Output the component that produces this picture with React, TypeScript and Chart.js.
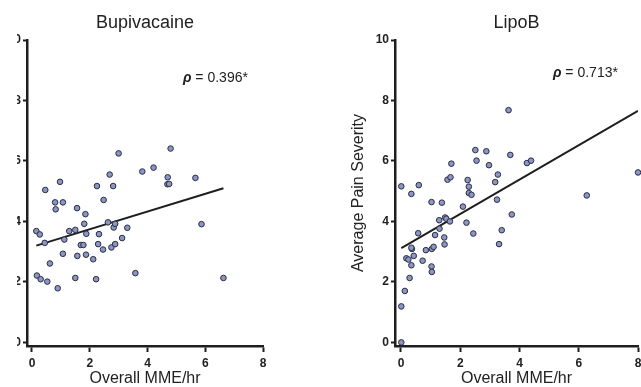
import React, { useEffect, useRef } from 'react';
import { Chart, registerables } from 'chart.js';

Chart.register(...registerables);

// ---------- data ----------
const panelTitles = ['Bupivacaine', 'LipoB'];
const rhoLabels = ['0.396*', '0.713*'];
const xAxisTitle = 'Overall MME/hr';
const yAxisTitle = 'Average Pain Severity';
const xTickValues = [0, 2, 4, 6, 8];
const yTickValues = [0, 2, 4, 6, 8, 10];

const bupiMME = [0.15, 0.27, 0.44, 0.46, 0.17, 0.30, 0.53, 0.62, 0.80, 0.82, 0.89, 0.97, 1.07, 1.07, 1.12, 1.29, 1.50, 1.50, 1.56, 1.57, 1.69, 1.78, 1.81, 1.85, 1.88, 1.87, 2.12, 2.22, 2.25, 2.29, 2.32, 2.46, 2.48, 2.63, 2.69, 2.75, 2.81, 2.83, 2.88, 2.88, 3.00, 3.12, 3.30, 3.58, 3.82, 4.21, 4.70, 4.69, 4.75, 4.80, 5.66, 5.87, 6.63];
const bupiPain = [3.68, 3.57, 3.29, 5.04, 2.21, 2.09, 2.01, 2.61, 4.63, 4.40, 1.79, 5.31, 4.63, 2.93, 3.40, 3.68, 3.72, 2.13, 4.44, 2.86, 3.22, 3.22, 3.92, 4.24, 3.59, 2.90, 2.75, 2.09, 5.17, 3.25, 3.58, 3.07, 4.71, 3.97, 5.55, 3.14, 5.17, 3.80, 3.92, 3.25, 6.25, 3.45, 3.79, 2.29, 5.65, 5.78, 5.46, 5.23, 5.24, 6.41, 5.44, 3.91, 2.13];
const bupiFitSlope = 0.293;
const bupiFitIntercept = 3.156;

const lipoMME = [0.01, 0.01, 0.13, 0.01, 0.29, 0.18, 0.25, 0.35, 0.35, 0.37, 0.35, 0.43, 0.58, 0.60, 0.73, 0.84, 1.03, 1.03, 1.04, 1.04, 1.10, 1.15, 1.29, 1.30, 1.38, 1.46, 1.47, 1.49, 1.53, 1.57, 1.65, 1.67, 1.70, 2.09, 2.21, 2.25, 2.29, 2.29, 2.38, 2.44, 2.51, 2.55, 2.88, 2.97, 3.18, 3.24, 3.27, 3.31, 3.40, 3.63, 3.69, 3.74, 4.25, 4.39, 6.27, 8.00];
const lipoPain = [0.00, 1.19, 1.70, 5.16, 2.13, 2.78, 2.74, 4.91, 2.55, 3.09, 3.13, 2.86, 3.61, 5.20, 2.70, 3.05, 4.64, 2.51, 2.33, 3.09, 3.16, 3.55, 4.04, 3.76, 4.62, 3.47, 3.24, 4.13, 4.09, 5.38, 4.00, 5.46, 5.91, 4.49, 3.96, 5.37, 5.15, 4.94, 4.88, 3.60, 6.36, 6.01, 6.32, 5.86, 5.30, 4.72, 5.55, 3.25, 3.71, 7.68, 6.20, 4.23, 5.93, 6.01, 4.86, 5.62];
const lipoFitSlope = 0.568;
const lipoFitIntercept = 3.114;

// ---------- styling ----------
const INK = '#1e1e1e';
const POINT_FILL = '#8b96c6';
const POINT_EDGE = '#2a2d3e';
const FONT = '"Liberation Sans", Arial, sans-serif';
const TICK_FONT = '"Liberation Sans Narrow", "Liberation Sans", Arial, sans-serif';

const textPlugin = {
  id: 'panelText',
  afterDraw(chart: any, _args: any, opts: any) {
    const { ctx, chartArea } = chart;
    ctx.save();
    ctx.fillStyle = '#222';
    ctx.textAlign = 'center';
    ctx.textBaseline = 'middle';
    ctx.font = `18px ${FONT}`;
    ctx.fillText(opts.title, (chartArea.left + chartArea.right) / 2, opts.titleY);
    const x0 = chartArea.left + opts.rhoDx;
    const y0 = chartArea.top + opts.rhoDy;
    ctx.textAlign = 'left';
    ctx.font = `italic bold 14px ${FONT}`;
    ctx.fillText('ρ', x0, y0);
    const w = ctx.measureText('ρ').width;
    ctx.font = `14px ${FONT}`;
    ctx.fillText(' = ' + opts.rho, x0 + w, y0);
    ctx.restore();
  },
};

type PanelProps = {
  mme: number[];
  pain: number[];
  slope: number;
  intercept: number;
  title: string;
  rho: string;
  rhoDx: number;
  rhoDy: number;
  left: number;
  width: number;
  padLeft: number;
  padRight: number;
  yScaleWidth: number;
  xMin: number;
  showYTitle: boolean;
};

function Panel(p: PanelProps) {
  const ref = useRef<HTMLCanvasElement | null>(null);
  useEffect(() => {
    if (!ref.current) return;
    const points = p.mme.map((x, i) => ({ x, y: p.pain[i] }));
    const x1 = Math.min(...p.mme);
    const x2 = Math.max(...p.mme);
    const fit = [x1, x2].map((x) => ({ x, y: p.intercept + p.slope * x }));
    const setTicks = (vals: number[]) => (scale: any) => {
      scale.ticks = vals.map((v) => ({ value: v }));
    };
    const chart = new Chart(ref.current, {
      type: 'scatter',
      data: {
        datasets: [
          {
            type: 'line',
            data: fit,
            borderColor: INK,
            borderWidth: 2,
            pointRadius: 0,
            fill: false,
            order: 2,
          } as any,
          {
            data: points,
            backgroundColor: POINT_FILL,
            borderColor: POINT_EDGE,
            borderWidth: 1,
            pointRadius: 2.8,
            clip: false,
            order: 1,
          } as any,
        ],
      },
      options: {
        animation: false,
        responsive: false,
        layout: { padding: { left: p.padLeft, right: p.padRight, top: 40, bottom: 0 } },
        plugins: {
          legend: { display: false },
          tooltip: { enabled: false },
          title: { display: false },
          panelText: { title: p.title, titleY: 23, rho: p.rho, rhoDx: p.rhoDx, rhoDy: p.rhoDy },
        } as any,
        scales: {
          x: {
            type: 'linear',
            min: p.xMin,
            max: 8,
            afterBuildTicks: setTicks(xTickValues),
            afterFit: (s: any) => { s.height = 41; },
            border: { display: true, color: INK, width: 2.5 },
            grid: { display: true, drawOnChartArea: false, drawTicks: true, tickLength: 6, tickWidth: 2, tickColor: INK },
            ticks: { color: '#222', padding: 4, font: { family: TICK_FONT, size: 12, weight: 'bold' }, maxRotation: 0 },
            title: { display: true, text: xAxisTitle, color: '#222', padding: 0, font: { family: FONT, size: 16, lineHeight: 1 } },
          },
          y: {
            type: 'linear',
            min: -0.12,
            max: 10,
            afterBuildTicks: setTicks(yTickValues),
            afterFit: (s: any) => { s.width = p.yScaleWidth; },
            border: { display: true, color: INK, width: 2.5 },
            grid: { display: true, drawOnChartArea: false, drawTicks: true, tickLength: 4, tickWidth: 2, tickColor: INK },
            ticks: { color: '#222', padding: 2, font: { family: TICK_FONT, size: 12, weight: 'bold' } },
            title: { display: p.showYTitle, text: yAxisTitle, color: '#222', padding: 0, font: { family: FONT, size: 16 } },
          },
        },
      },
      plugins: [textPlugin as any],
    } as any);
    return () => chart.destroy();
  }, []);
  return (
    <div style={{ position: 'absolute', left: p.left, top: 0, width: p.width, height: 387 }}>
      <canvas ref={ref} width={p.width} height={387} style={{ display: 'block' }} />
    </div>
  );
}

export default function App() {
  return (
    <div style={{ position: 'absolute', left: 0, top: 0, width: 641, height: 387, overflow: 'hidden', background: '#fff' }}>
      <Panel
        mme={bupiMME}
        pain={bupiPain}
        slope={bupiFitSlope}
        intercept={bupiFitIntercept}
        title={panelTitles[0]}
        rho={rhoLabels[0]}
        rhoDx={156}
        rhoDy={38}
        left={17}
        width={290}
        padLeft={0}
        padRight={44}
        yScaleWidth={10}
        xMin={-0.173}
        showYTitle={false}
      />
      <Panel
        mme={lipoMME}
        pain={lipoPain}
        slope={lipoFitSlope}
        intercept={lipoFitIntercept}
        title={panelTitles[1]}
        rho={rhoLabels[1]}
        rhoDx={158}
        rhoDy={33}
        left={320}
        width={340}
        padLeft={29}
        padRight={22}
        yScaleWidth={46}
        xMin={-0.2025}
        showYTitle={true}
      />
    </div>
  );
}
